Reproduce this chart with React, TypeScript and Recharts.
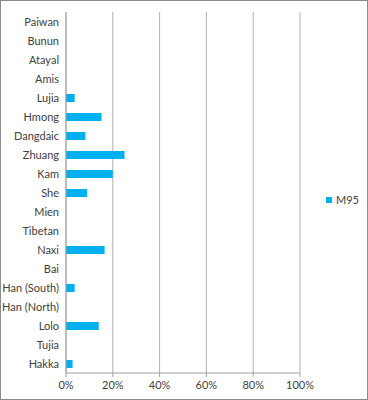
import { BarChart, Bar, XAxis, YAxis, CartesianGrid, Legend } from "recharts";

const groups = [
  "Paiwan", "Bunun", "Atayal", "Amis", "Lujia", "Hmong", "Dangdaic", "Zhuang", "Kam", "She",
  "Mien", "Tibetan", "Naxi", "Bai", "Han (South)", "Han (North)", "Lolo", "Tujia", "Hakka",
];
const m95 = [0, 0, 0, 0, 0.037, 0.152, 0.083, 0.25, 0.2, 0.09, 0, 0, 0.165, 0, 0.037, 0, 0.14, 0, 0.028];
const xTicks = [0, 0.2, 0.4, 0.6, 0.8, 1];

const data = groups.map((name, i) => ({ name, M95: m95[i] }));

const textStyle = { fill: "#404040", fontSize: 11, fontFamily: "Lato, sans-serif" };

// plain text tick so long names like "Han (South)" don't wrap
const CategoryTick = ({ x, y, payload }: any) => (
  <text x={x} y={y} dy={4} textAnchor="end" {...textStyle}>
    {payload.value}
  </text>
);

const App = () => {
  return (
    <div
      style={{
        position: "absolute",
        left: 0,
        top: 0,
        width: 366,
        height: 398,
        border: "1px solid #8c8c8c",
        background: "#fff",
      }}
    >
      <BarChart
        width={366}
        height={398}
        data={data}
        layout="vertical"
        margin={{ top: 11, right: 67, left: 0, bottom: 0 }}
        barSize={8}
      >
        <CartesianGrid horizontal={false} stroke="#b0b0b0" />
        <XAxis
          type="number"
          domain={[0, 1]}
          ticks={xTicks}
          tickFormatter={(v: number) => `${Math.round(v * 100)}%`}
          stroke="#a0a0a0"
          tickSize={4}
          tickMargin={4}
          height={26}
          tick={textStyle}
          interval={0}
        />
        <YAxis
          type="category"
          dataKey="name"
          width={65}
          stroke="#a0a0a0"
          tickLine={false}
          tickSize={4}
          tickMargin={3}
          tick={<CategoryTick />}
          interval={0}
        />
        <Legend
          layout="horizontal"
          align="center"
          verticalAlign="middle"
          iconType="square"
          iconSize={6}
          wrapperStyle={{ left: 325, top: 189, width: "auto" }}
          formatter={(value: string) => (
            <span style={{ color: "#404040", fontSize: 11, fontFamily: "Lato, sans-serif" }}>{value}</span>
          )}
        />
        <Bar dataKey="M95" fill="#00b0f0" isAnimationActive={false} />
      </BarChart>
    </div>
  );
};

export default App;
